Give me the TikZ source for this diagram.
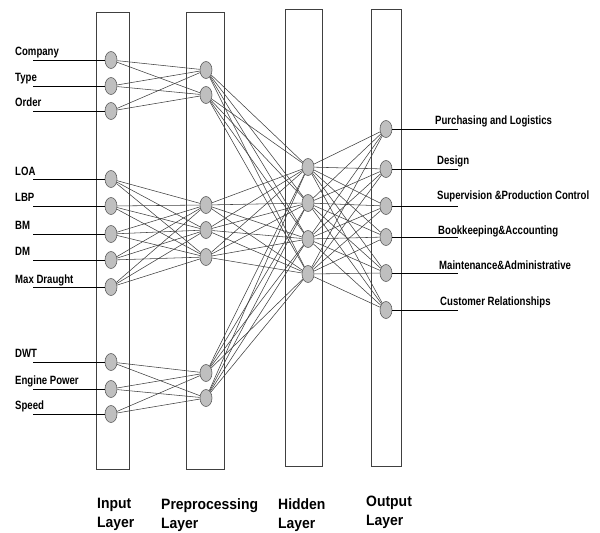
\documentclass[tikz,border=0pt]{standalone}
\usepackage{fontspec}
\setmainfont{Liberation Sans}
\newfontfamily\featfont[FakeStretch=0.8]{Liberation Sans}
\newfontfamily\titlefont[FakeStretch=0.93]{Liberation Sans}
\usetikzlibrary{positioning,
	calc,
	shapes.geometric}
\tikzstyle{layer}=[draw=black!75, line width=0.9pt]
\tikzstyle{neuron}=[ellipse, draw=black!65, fill=black!25, line width=0.6pt,
		minimum width=12pt, minimum height=17pt, inner sep=0]
\tikzstyle{wire}=[black!75, line width=0.55pt]
\tikzstyle{lead}=[black, line width=0.7pt]
\tikzstyle{feat}=[anchor=base west, inner sep=0,
		font=\featfont\bfseries\fontsize{12}{14}\selectfont]
\tikzstyle{title}=[anchor=north west, inner sep=0, align=left,
		font=\titlefont\bfseries\fontsize{15}{19}\selectfont]

\begin{document}
\begin{tikzpicture}[x=1pt, y=-1pt]
            \useasboundingbox (0,0) rectangle (600,533);
            % layer boxes
            \draw[layer] (96,12) rectangle (129,469);
            \draw[layer] (186,12) rectangle (224,469);
            \draw[layer] (285,9) rectangle (322,466);
            \draw[layer] (371,9) rectangle (401,466);
            % input layer
            \node[neuron] (in1) at (111,60) {};
            \node[neuron] (in2) at (111,86) {};
            \node[neuron] (in3) at (111,111) {};
            \node[neuron] (in4) at (111,179) {};
            \node[neuron] (in5) at (111,206) {};
            \node[neuron] (in6) at (111,234) {};
            \node[neuron] (in7) at (111,260) {};
            \node[neuron] (in8) at (111,287) {};
            \node[neuron] (in9) at (111,362) {};
            \node[neuron] (in10) at (111,389) {};
            \node[neuron] (in11) at (111,414) {};
            % preprocessing layer
            \node[neuron] (pre1) at (206,70) {};
            \node[neuron] (pre2) at (206,95) {};
            \node[neuron] (pre3) at (206,205) {};
            \node[neuron] (pre4) at (206,230) {};
            \node[neuron] (pre5) at (206,257) {};
            \node[neuron] (pre6) at (206,373) {};
            \node[neuron] (pre7) at (206,398) {};
            % hidden layer
            \node[neuron] (hid1) at (308,167) {};
            \node[neuron] (hid2) at (308,203) {};
            \node[neuron] (hid3) at (308,239) {};
            \node[neuron] (hid4) at (308,274) {};
            % output layer
            \node[neuron] (out1) at (386,129) {};
            \node[neuron] (out2) at (386,169) {};
            \node[neuron] (out3) at (386,206) {};
            \node[neuron] (out4) at (386,237) {};
            \node[neuron] (out5) at (386,273) {};
            \node[neuron] (out6) at (386,310) {};
            % input names
            \node[feat] (fcompany) at (15,55) {Company};
            \node[feat] (ftype) at (15,81) {Type};
            \node[feat] (forder) at (15,106) {Order};
            \node[feat] (floa) at (15,175) {LOA};
            \node[feat] (flbp) at (15,201) {LBP};
            \node[feat] (fbm) at (15,229) {BM};
            \node[feat] (fdm) at (15,255) {DM};
            \node[feat] (fdraught) at (15,283) {Max Draught};
            \node[feat] (fdwt) at (15,357) {DWT};
            \node[feat] (fpower) at (15,384) {Engine Power};
            \node[feat] (fspeed) at (15,409) {Speed};
            % output names
            \node[feat] (fpurch) at (435,124) {Purchasing and Logistics};
            \node[feat] (fdesign) at (437,164) {Design};
            \node[feat] (fsuper) at (437,199) {Supervision \&Production Control};
            \node[feat] (fbook) at (438,234) {Bookkeeping\&Accounting};
            \node[feat] (fmaint) at (439,269) {Maintenance\&Administrative};
            \node[feat] (fcust) at (440,305) {Customer Relationships};
            % layer titles
            \node[title] (tinput) at (97,498) {Input\\Layer};
            \node[title] (tpre) at (161,498) {Preprocessing\\Layer};
            \node[title] (thid) at (278,498) {Hidden\\Layer};
            \node[title] (tout) at (366,496) {Output\\Layer};
            % leads in and out
            \foreach \i in {1,...,11} {
                \coordinate (s\i) at ([xshift=-78pt]in\i.center);
                \draw[lead] (s\i) -- (in\i);
            }
            \foreach \i in {1,...,6} {
                \coordinate (e\i) at ([xshift=72pt]out\i.center);
                \draw[lead] (out\i) -- (e\i);
            }
            % weights
            \foreach \i in {1,2,3} \foreach \j in {1,2} \draw[wire] (in\i) -- (pre\j);
            \foreach \i in {4,...,8} \foreach \j in {3,4,5} \draw[wire] (in\i) -- (pre\j);
            \foreach \i in {9,10,11} \foreach \j in {6,7} \draw[wire] (in\i) -- (pre\j);
            \foreach \i in {1,...,7} \foreach \j in {1,...,4} \draw[wire] (pre\i) -- (hid\j);
            \foreach \i in {1,...,4} \foreach \j in {1,...,6} \draw[wire] (hid\i) -- (out\j);
        \end{tikzpicture}
\end{document}
